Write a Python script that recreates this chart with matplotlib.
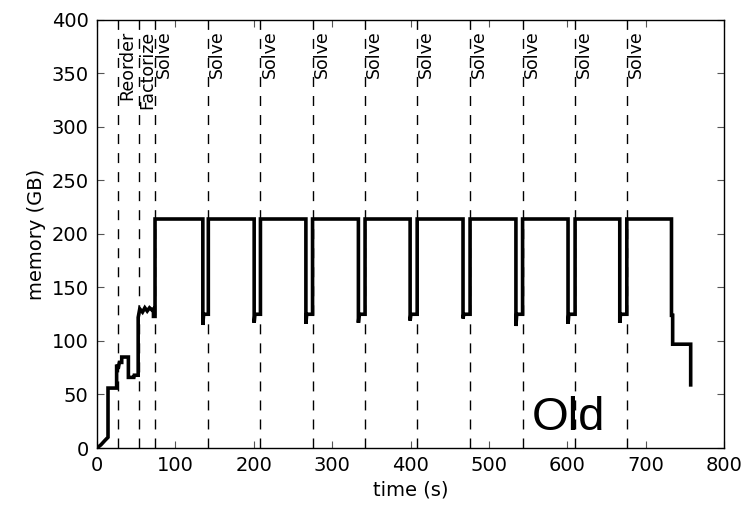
import matplotlib
matplotlib.use("Agg")
import matplotlib.pyplot as plt

# memory trace (time in s, memory in GB)
time_s = [0, 5, 10, 14, 14, 25, 25, 27, 28.5, 31.5, 31.5, 40, 40, 47, 47.5, 52.5, 52.5,
          54.5, 58, 61, 64, 67, 70, 72, 72, 74, 74,
          135, 135, 136, 142, 142,
          200.5, 200.5, 201.5, 208.5, 208.5,
          266.5, 266.5, 267.5, 275, 275,
          333.5, 333.5, 334.5, 342, 342,
          399.5, 399.5, 400.5, 408.5, 408.5,
          467, 467, 468, 476, 476,
          534.5, 534.5, 535.5, 543, 543,
          601, 601, 602, 610, 610,
          667, 667, 668, 676, 676,
          733, 733, 734.5, 734.5, 757.5, 757.5]
memory_gb = [0, 3, 7, 10, 56, 56, 78, 74, 80, 80, 85, 85, 66, 66, 68, 68, 122,
             130, 127, 131, 128, 131, 129, 130, 123, 123, 214,
             214, 115, 125, 125, 214,
             214, 117, 125, 125, 214,
             214, 116, 125, 125, 214,
             214, 117, 125, 125, 214,
             214, 119, 125, 125, 214,
             214, 121, 125, 125, 214,
             214, 114, 125, 125, 214,
             214, 116, 125, 125, 214,
             214, 117, 125, 125, 214,
             214, 124, 124, 97, 97, 59]

# phase markers
phase_times = [26.5, 53, 74, 142, 208.5, 275, 342, 408.5, 476, 543, 610, 676]
phase_labels = ["Reorder", "Factorize", "Solve", "Solve", "Solve", "Solve", "Solve",
                "Solve", "Solve", "Solve", "Solve", "Solve"]

x_ticks = [0, 100, 200, 300, 400, 500, 600, 700, 800]
y_ticks = [0, 50, 100, 150, 200, 250, 300, 350, 400]

plt.rcParams['lines.scale_dashes'] = False
fig = plt.figure(figsize=(7.47, 5.12), dpi=100)
ax = fig.add_axes([0.1299, 0.125, 0.8393, 0.836])

ax.plot(time_s, memory_gb, color='black', lw=2.6, solid_joinstyle='miter')

for t, lab in zip(phase_times, phase_labels):
    ax.axvline(t, color='black', lw=1.0, linestyle=(0, (7.2, 6.5)))
    ax.text(t, 390, lab, rotation=90, ha='left', va='top', fontsize=12.5)

ax.text(555, 17, "Old", fontsize=34, family='Liberation Sans', ha='left', va='baseline')

ax.set_xlim(0, 800)
ax.set_ylim(0, 400)
ax.set_xticks(x_ticks)
ax.set_yticks(y_ticks)
ax.tick_params(direction='in', top=True, right=True, length=5, width=0.8,
               labelsize=14, pad=6, color='#555555')
for s in ax.spines.values():
    s.set_linewidth(1.0)
ax.set_xlabel("time (s)", fontsize=14)
ax.set_ylabel("memory (GB)", fontsize=14)

fig.savefig("out.png", dpi=100)
